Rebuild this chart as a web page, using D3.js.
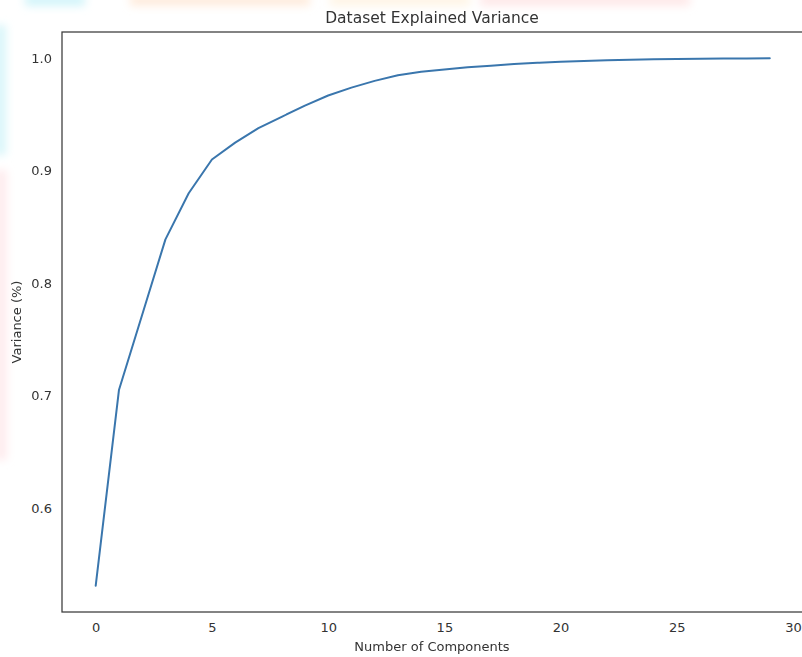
<!DOCTYPE html>
<html>
<head>
<meta charset="utf-8">
<script src="https://cdn.jsdelivr.net/npm/d3@7"></script>
<style>
  html, body { margin: 0; padding: 0; background: #ffffff; }
  svg { display: block; font-family: "DejaVu Sans", sans-serif; }
</style>
</head>
<body>
<svg id="chart" width="802" height="657"></svg>
<script>
// ---- data ----
const components = d3.range(0, 30);
const variance = [
  0.531, 0.705, 0.772, 0.839, 0.880, 0.910, 0.925, 0.938, 0.948, 0.958,
  0.967, 0.974, 0.980, 0.985, 0.988, 0.990, 0.992, 0.9935, 0.995, 0.996,
  0.997, 0.9977, 0.9983, 0.9988, 0.9992, 0.9995, 0.9997, 0.9998, 0.9999, 1.0
];
const xTicks = [0, 5, 10, 15, 20, 25, 30];
const yTicks = [0.6, 0.7, 0.8, 0.9, 1.0];
const titleText = "Dataset Explained Variance";
const xLabel = "Number of Components";
const yLabel = "Variance (%)";

// ---- layout ----
const W = 802, H = 657;
const margin = { left: 62, right: -1.5, top: 32, bottom: 45 };
const svg = d3.select("#chart");

// soft pastel background artefacts along the top and left edges
const defs = svg.append("defs");
defs.append("filter").attr("id", "soft")
  .attr("x", "-50%").attr("y", "-50%").attr("width", "200%").attr("height", "200%")
  .append("feGaussianBlur").attr("stdDeviation", 4);
const blobs = [
  { x: 25, y: -6, w: 60, h: 12, c: "#c4f1f8" },
  { x: 130, y: -6, w: 180, h: 12, c: "#fde6d2" },
  { x: 330, y: -6, w: 140, h: 12, c: "#fff1de" },
  { x: 480, y: -6, w: 210, h: 12, c: "#fde2e2" },
  { x: -6, y: 25, w: 12, h: 130, c: "#ccf3f8" },
  { x: -6, y: 170, w: 13, h: 290, c: "#fde6e8" }
];
svg.append("g").attr("filter", "url(#soft)").selectAll("rect").data(blobs).join("rect")
  .attr("x", d => d.x).attr("y", d => d.y)
  .attr("width", d => d.w).attr("height", d => d.h)
  .attr("fill", d => d.c).attr("opacity", 0.75);

const xMin = d3.min(components), xMax = d3.max(components);
const yMin = d3.min(variance), yMax = d3.max(variance);
const xPad = (xMax - xMin) * 0.05, yPad = (yMax - yMin) * 0.05;

const x = d3.scaleLinear()
  .domain([xMin - xPad, xMax + xPad])
  .range([margin.left, W - margin.right]);
const y = d3.scaleLinear()
  .domain([yMin - yPad, yMax + yPad])
  .range([H - margin.bottom, margin.top]);

const textColor = "#333333";

// axes (no tick marks, seaborn white style)
const xAxis = svg.append("g")
  .attr("transform", `translate(0,${H - margin.bottom})`)
  .call(d3.axisBottom(x).tickValues(xTicks).tickSize(0).tickPadding(11).tickFormat(d3.format("d")));
xAxis.select(".domain").remove();
xAxis.selectAll("text").attr("fill", textColor).style("font-size", "13px").style("font-family", "DejaVu Sans");

const yAxis = svg.append("g")
  .attr("transform", `translate(${margin.left},0)`)
  .call(d3.axisLeft(y).tickValues(yTicks).tickSize(0).tickPadding(10).tickFormat(d3.format(".1f")));
yAxis.select(".domain").remove();
yAxis.selectAll("text").attr("fill", textColor).style("font-size", "13px").style("font-family", "DejaVu Sans");

// frame (spines)
svg.append("rect")
  .attr("x", x.range()[0])
  .attr("y", y.range()[1])
  .attr("width", x.range()[1] - x.range()[0])
  .attr("height", y.range()[0] - y.range()[1])
  .attr("fill", "none")
  .attr("stroke", "#3a3a3a")
  .attr("stroke-width", 1.25);

// line
const line = d3.line()
  .x((d, i) => x(components[i]))
  .y(d => y(d));
svg.append("path")
  .datum(variance)
  .attr("d", line)
  .attr("fill", "none")
  .attr("stroke", "#3a76ad")
  .attr("stroke-width", 2)
  .attr("stroke-linejoin", "round")
  .attr("stroke-linecap", "round");

// title
svg.append("text")
  .attr("x", 432)
  .attr("y", 23)
  .attr("text-anchor", "middle")
  .attr("fill", textColor)
  .style("font-size", "15.5px")
  .text(titleText);

// x label
svg.append("text")
  .attr("x", 432)
  .attr("y", 651)
  .attr("text-anchor", "middle")
  .attr("fill", textColor)
  .style("font-size", "13px")
  .text(xLabel);

// y label
svg.append("text")
  .attr("transform", `translate(21,${(y.range()[0] + y.range()[1]) / 2}) rotate(-90)`)
  .attr("text-anchor", "middle")
  .attr("fill", textColor)
  .style("font-size", "13px")
  .text(yLabel);
</script>
</body>
</html>
